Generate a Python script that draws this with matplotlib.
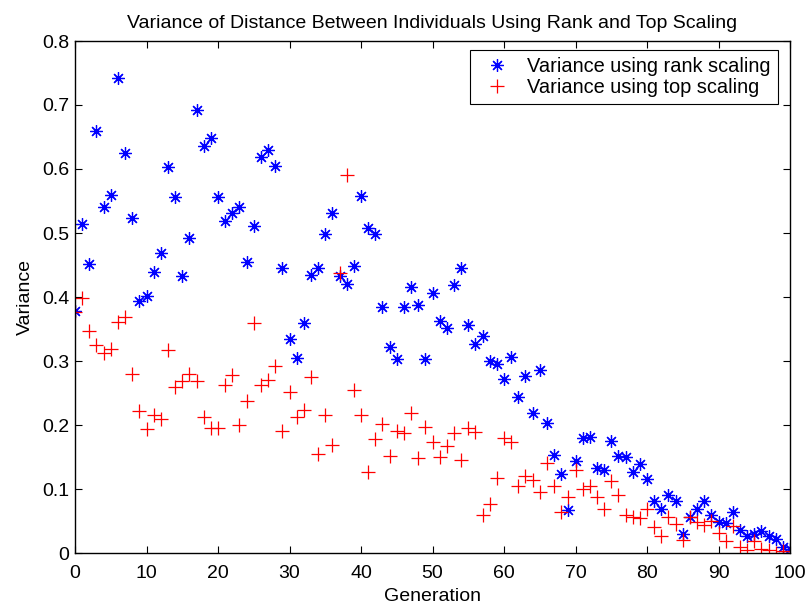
"""
    Variance of distance between individuals, rank vs top scaling
"""
import numpy as np
import matplotlib
matplotlib.use("Agg")
import matplotlib.pyplot as plt

plt.rcParams['font.family'] = ['Liberation Sans', 'DejaVu Sans']

generation = np.arange(0, 101)

#variance with rank scaling (blue stars)
rank_var = [0.378, 0.514, 0.451, 0.66, 0.54, 0.559, 0.742, 0.625, 0.524, 0.394,
            0.402, 0.439, 0.469, 0.603, 0.557, 0.433, 0.492, 0.692, 0.636, 0.648,
            0.557, 0.518, 0.532, 0.54, 0.455, 0.511, 0.619, 0.63, 0.604, 0.445,
            0.334, 0.305, 0.359, 0.434, 0.445, 0.498, 0.532, 0.433, 0.42, 0.449,
            0.558, 0.508, 0.498, 0.385, 0.322, 0.303, 0.385, 0.416, 0.388, 0.303,
            0.407, 0.363, 0.351, 0.419, 0.445, 0.356, 0.327, 0.339, 0.3, 0.296,
            0.272, 0.306, 0.244, 0.277, 0.219, 0.286, 0.203, 0.153, 0.123, 0.067,
            0.144, 0.179, 0.182, 0.133, 0.129, 0.175, 0.152, 0.15, 0.127, 0.139,
            0.116, 0.082, 0.069, 0.091, 0.082, 0.029, 0.057, 0.068, 0.081, 0.06,
            0.048, 0.047, 0.064, 0.036, 0.027, 0.029, 0.035, 0.027, 0.022, 0.01,
            0.006]

#variance with top scaling (red plus)
top_var = [0.377, 0.398, 0.347, 0.325, 0.312, 0.319, 0.361, 0.368, 0.279, 0.222,
           0.193, 0.215, 0.21, 0.317, 0.26, 0.269, 0.28, 0.268, 0.213, 0.196,
           0.196, 0.262, 0.278, 0.2, 0.238, 0.359, 0.263, 0.27, 0.292, 0.191,
           0.252, 0.212, 0.223, 0.275, 0.154, 0.216, 0.169, 0.437, 0.59, 0.255,
           0.216, 0.126, 0.178, 0.202, 0.152, 0.19, 0.188, 0.218, 0.149, 0.197,
           0.173, 0.15, 0.167, 0.188, 0.145, 0.196, 0.189, 0.06, 0.076, 0.117,
           0.179, 0.174, 0.105, 0.12, 0.114, 0.096, 0.14, 0.104, 0.064, 0.088,
           0.13, 0.1, 0.105, 0.088, 0.069, 0.113, 0.09, 0.06, 0.057, 0.055,
           0.069, 0.04, 0.026, 0.057, 0.045, 0.02, 0.057, 0.049, 0.044, 0.05,
           0.032, 0.019, 0.042, 0.01, 0.005, 0.019, 0.006, 0.005, 0.0, 0.003,
           0.0]

fig = plt.figure(figsize=(8.08, 6.09), dpi=100)
ax = fig.add_axes([75/808, 1 - 553/609, 715/808, 512/609])

ax.plot(generation, rank_var, linestyle='none', marker=(8, 2, 0), ms=9, mew=0.9,
        color=(0, 0, 1), label='Variance using rank scaling')
ax.plot(generation, top_var, linestyle='none', marker='+', ms=10, mew=0.9,
        color=(1, 0, 0), label='Variance using top scaling')

ax.set_xlim(0, 100)
ax.set_ylim(0, 0.8)
ax.set_xticks(np.arange(0, 101, 10))
ax.set_yticks(np.arange(0, 0.81, 0.1))
ax.set_yticklabels(['0', '0.1', '0.2', '0.3', '0.4', '0.5', '0.6', '0.7', '0.8'])
ax.tick_params(direction='in', top=True, right=True, labelsize=14, length=5)
ax.tick_params(axis='x', pad=9)
ax.tick_params(axis='y', pad=4)
for s in ax.spines.values():
    s.set_linewidth(1.0)

ax.set_title('Variance of Distance Between Individuals Using Rank and Top Scaling',
             fontsize=14, pad=9)
ax.set_xlabel('Generation', fontsize=14, labelpad=4)
ax.set_ylabel('Variance', fontsize=14, labelpad=6)

leg = ax.legend(loc='upper right', bbox_to_anchor=(0.983, 0.982), fontsize=14.4,
                fancybox=False, framealpha=1, edgecolor='black', borderaxespad=0,
                borderpad=0.35, handletextpad=0.5, labelspacing=0.1,
                handlelength=2.0)
leg.get_frame().set_linewidth(0.8)

fig.savefig('out.png', dpi=100)
